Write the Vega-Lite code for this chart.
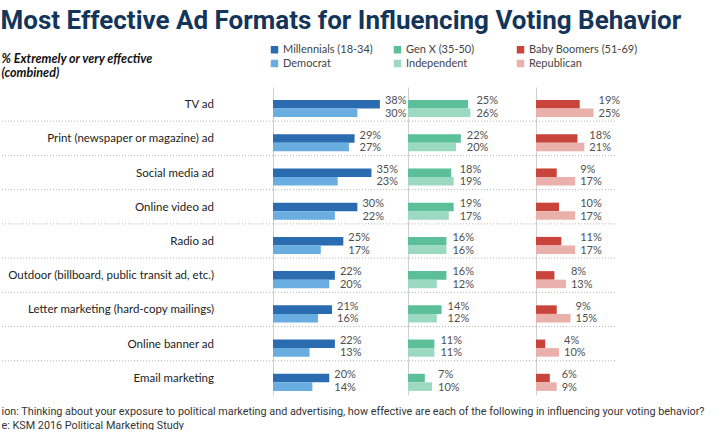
{
  "$schema": "https://vega.github.io/schema/vega-lite/v6.json",
  "padding": {"left": 0, "top": 8, "right": 0, "bottom": 0},
  "spacing": 0,
  "bounds": "flush",
  "background": "white",
  "title": {
    "text": "Most Effective Ad Formats for Influencing Voting Behavior",
    "anchor": "start",
    "font": "Roboto",
    "fontSize": 26,
    "fontWeight": "bold",
    "color": "#14355a",
    "offset": 10
  },
  "data": {
    "values": [
      {"format": "TV ad", "panel": "A", "level": "gen", "series": "Millennials (18-34)", "value": 0.38},
      {"format": "TV ad", "panel": "A", "level": "party", "series": "Democrat", "value": 0.30},
      {"format": "TV ad", "panel": "B", "level": "gen", "series": "Gen X  (35-50)", "value": 0.25},
      {"format": "TV ad", "panel": "B", "level": "party", "series": "Independent", "value": 0.26},
      {"format": "TV ad", "panel": "C", "level": "gen", "series": "Baby Boomers (51-69)", "value": 0.19},
      {"format": "TV ad", "panel": "C", "level": "party", "series": "Republican", "value": 0.25},
      {"format": "Print (newspaper or magazine) ad", "panel": "A", "level": "gen", "series": "Millennials (18-34)", "value": 0.29},
      {"format": "Print (newspaper or magazine) ad", "panel": "A", "level": "party", "series": "Democrat", "value": 0.27},
      {"format": "Print (newspaper or magazine) ad", "panel": "B", "level": "gen", "series": "Gen X  (35-50)", "value": 0.22},
      {"format": "Print (newspaper or magazine) ad", "panel": "B", "level": "party", "series": "Independent", "value": 0.20},
      {"format": "Print (newspaper or magazine) ad", "panel": "C", "level": "gen", "series": "Baby Boomers (51-69)", "value": 0.18},
      {"format": "Print (newspaper or magazine) ad", "panel": "C", "level": "party", "series": "Republican", "value": 0.21},
      {"format": "Social media ad", "panel": "A", "level": "gen", "series": "Millennials (18-34)", "value": 0.35},
      {"format": "Social media ad", "panel": "A", "level": "party", "series": "Democrat", "value": 0.23},
      {"format": "Social media ad", "panel": "B", "level": "gen", "series": "Gen X  (35-50)", "value": 0.18},
      {"format": "Social media ad", "panel": "B", "level": "party", "series": "Independent", "value": 0.19},
      {"format": "Social media ad", "panel": "C", "level": "gen", "series": "Baby Boomers (51-69)", "value": 0.09},
      {"format": "Social media ad", "panel": "C", "level": "party", "series": "Republican", "value": 0.17},
      {"format": "Online video ad", "panel": "A", "level": "gen", "series": "Millennials (18-34)", "value": 0.30},
      {"format": "Online video ad", "panel": "A", "level": "party", "series": "Democrat", "value": 0.22},
      {"format": "Online video ad", "panel": "B", "level": "gen", "series": "Gen X  (35-50)", "value": 0.19},
      {"format": "Online video ad", "panel": "B", "level": "party", "series": "Independent", "value": 0.17},
      {"format": "Online video ad", "panel": "C", "level": "gen", "series": "Baby Boomers (51-69)", "value": 0.10},
      {"format": "Online video ad", "panel": "C", "level": "party", "series": "Republican", "value": 0.17},
      {"format": "Radio ad", "panel": "A", "level": "gen", "series": "Millennials (18-34)", "value": 0.25},
      {"format": "Radio ad", "panel": "A", "level": "party", "series": "Democrat", "value": 0.17},
      {"format": "Radio ad", "panel": "B", "level": "gen", "series": "Gen X  (35-50)", "value": 0.16},
      {"format": "Radio ad", "panel": "B", "level": "party", "series": "Independent", "value": 0.16},
      {"format": "Radio ad", "panel": "C", "level": "gen", "series": "Baby Boomers (51-69)", "value": 0.11},
      {"format": "Radio ad", "panel": "C", "level": "party", "series": "Republican", "value": 0.17},
      {"format": "Outdoor (billboard, public transit ad, etc.)", "panel": "A", "level": "gen", "series": "Millennials (18-34)", "value": 0.22},
      {"format": "Outdoor (billboard, public transit ad, etc.)", "panel": "A", "level": "party", "series": "Democrat", "value": 0.20},
      {"format": "Outdoor (billboard, public transit ad, etc.)", "panel": "B", "level": "gen", "series": "Gen X  (35-50)", "value": 0.16},
      {"format": "Outdoor (billboard, public transit ad, etc.)", "panel": "B", "level": "party", "series": "Independent", "value": 0.12},
      {"format": "Outdoor (billboard, public transit ad, etc.)", "panel": "C", "level": "gen", "series": "Baby Boomers (51-69)", "value": 0.08},
      {"format": "Outdoor (billboard, public transit ad, etc.)", "panel": "C", "level": "party", "series": "Republican", "value": 0.13},
      {"format": "Letter marketing (hard-copy mailings)", "panel": "A", "level": "gen", "series": "Millennials (18-34)", "value": 0.21},
      {"format": "Letter marketing (hard-copy mailings)", "panel": "A", "level": "party", "series": "Democrat", "value": 0.16},
      {"format": "Letter marketing (hard-copy mailings)", "panel": "B", "level": "gen", "series": "Gen X  (35-50)", "value": 0.14},
      {"format": "Letter marketing (hard-copy mailings)", "panel": "B", "level": "party", "series": "Independent", "value": 0.12},
      {"format": "Letter marketing (hard-copy mailings)", "panel": "C", "level": "gen", "series": "Baby Boomers (51-69)", "value": 0.09},
      {"format": "Letter marketing (hard-copy mailings)", "panel": "C", "level": "party", "series": "Republican", "value": 0.15},
      {"format": "Online banner ad", "panel": "A", "level": "gen", "series": "Millennials (18-34)", "value": 0.22},
      {"format": "Online banner ad", "panel": "A", "level": "party", "series": "Democrat", "value": 0.13},
      {"format": "Online banner ad", "panel": "B", "level": "gen", "series": "Gen X  (35-50)", "value": 0.11},
      {"format": "Online banner ad", "panel": "B", "level": "party", "series": "Independent", "value": 0.11},
      {"format": "Online banner ad", "panel": "C", "level": "gen", "series": "Baby Boomers (51-69)", "value": 0.04},
      {"format": "Online banner ad", "panel": "C", "level": "party", "series": "Republican", "value": 0.10},
      {"format": "Email marketing", "panel": "A", "level": "gen", "series": "Millennials (18-34)", "value": 0.20},
      {"format": "Email marketing", "panel": "A", "level": "party", "series": "Democrat", "value": 0.14},
      {"format": "Email marketing", "panel": "B", "level": "gen", "series": "Gen X  (35-50)", "value": 0.07},
      {"format": "Email marketing", "panel": "B", "level": "party", "series": "Independent", "value": 0.10},
      {"format": "Email marketing", "panel": "C", "level": "gen", "series": "Baby Boomers (51-69)", "value": 0.06},
      {"format": "Email marketing", "panel": "C", "level": "party", "series": "Republican", "value": 0.09}
    ]
  },
  "resolve": {"scale": {"x": "independent", "y": "shared", "color": "shared"}},
  "hconcat": [
    {
      "width": 272,
      "height": 308,
      "layer": [
        {
          "transform": [{"filter": "datum.panel === 'A' && datum.level === 'gen' && datum.format !== 'Email marketing'"}],
          "mark": {"type": "rule", "strokeDash": [1, 2], "color": "#b5b5b5", "strokeWidth": 1},
          "encoding": {
            "y": {"field": "format", "type": "nominal", "bandPosition": 1, "sort": ["TV ad", "Print (newspaper or magazine) ad", "Social media ad", "Online video ad", "Radio ad", "Outdoor (billboard, public transit ad, etc.)", "Letter marketing (hard-copy mailings)", "Online banner ad", "Email marketing"], "scale": {"paddingInner": 0, "paddingOuter": 0},
              "axis": {"labels": false, "ticks": false, "domain": false, "grid": false, "title": ["% Extremely or very effective", "(combined)"], "titleAngle": 0, "titleAlign": "left", "titleBaseline": "top", "titleX": 0, "titleY": -35, "titleFont": "Lato", "titleFontSize": 12.5, "titleFontStyle": "italic", "titleFontWeight": "bold", "titleColor": "#111111", "titleLineHeight": 14}}
          }
        },
        {
          "transform": [{"filter": "datum.panel === 'A' && datum.level === 'gen'"}],
          "mark": {"type": "text", "align": "right", "baseline": "middle", "dx": -59, "dy": 1, "font": "Lato", "fontSize": 11.5, "color": "#222222"},
          "encoding": {
            "y": {"field": "format", "type": "nominal", "sort": ["TV ad", "Print (newspaper or magazine) ad", "Social media ad", "Online video ad", "Radio ad", "Outdoor (billboard, public transit ad, etc.)", "Letter marketing (hard-copy mailings)", "Online banner ad", "Email marketing"], "scale": {"paddingInner": 0, "paddingOuter": 0},
              "axis": {"labels": false, "ticks": false, "domain": false, "grid": false, "title": ["% Extremely or very effective", "(combined)"], "titleAngle": 0, "titleAlign": "left", "titleBaseline": "top", "titleX": 0, "titleY": -35, "titleFont": "Lato", "titleFontSize": 12.5, "titleFontStyle": "italic", "titleFontWeight": "bold", "titleColor": "#111111", "titleLineHeight": 14}},
            "x": {
              "datum": 1, "type": "quantitative", "scale": {"domain": [0, 1]},
              "axis": {
                "title": ["ion: Thinking about your exposure to political marketing and advertising, how effective are each of the following in influencing your voting behavior?", "e: KSM 2016 Political Marketing Study"],
                "labels": false, "ticks": false, "domain": false, "grid": false,
                "titleAnchor": "start", "titleAlign": "left", "titleFont": "Roboto", "titleFontSize": 10.8, "titleFontWeight": "normal", "titleColor": "#333333", "titlePadding": 10, "titleLineHeight": 14
              }
            },
            "text": {"field": "format"}
          }
        }
      ]
    },
    {
      "width": 135,
      "height": 308,
      "layer": [
        {
          "transform": [{"filter": "datum.panel === 'A' && datum.level === 'gen' && datum.format !== 'Email marketing'"}],
          "mark": {"type": "rule", "strokeDash": [1, 2], "color": "#b5b5b5", "strokeWidth": 1},
          "encoding": {
            "y": {"field": "format", "type": "nominal", "bandPosition": 1, "sort": ["TV ad", "Print (newspaper or magazine) ad", "Social media ad", "Online video ad", "Radio ad", "Outdoor (billboard, public transit ad, etc.)", "Letter marketing (hard-copy mailings)", "Online banner ad", "Email marketing"], "scale": {"paddingInner": 0, "paddingOuter": 0}, "axis": {"labels": false, "ticks": false, "title": null, "grid": false, "domainColor": "#d0d0d0"}}
          }
        },
        {
          "transform": [{"filter": "datum.panel === 'A'"}],
          "mark": {"type": "bar"},
          "encoding": {
            "y": {"field": "format", "type": "nominal", "sort": ["TV ad", "Print (newspaper or magazine) ad", "Social media ad", "Online video ad", "Radio ad", "Outdoor (billboard, public transit ad, etc.)", "Letter marketing (hard-copy mailings)", "Online banner ad", "Email marketing"], "scale": {"paddingInner": 0, "paddingOuter": 0}, "axis": {"labels": false, "ticks": false, "title": null, "grid": false, "domainColor": "#d0d0d0"}},
            "yOffset": {"field": "level", "sort": ["gen", "party"], "scale": {"paddingInner": 0, "paddingOuter": 1.14, "align": 0.76}},
            "x": {"field": "value", "type": "quantitative", "scale": {"domain": [0, 0.48]}, "axis": null},
            "color": {
              "field": "series", "type": "nominal",
              "scale": {"domain": ["Millennials (18-34)", "Gen X  (35-50)", "Baby Boomers (51-69)", "Democrat", "Independent", "Republican"], "range": ["#2b6cb0", "#5bbf99", "#c9443a", "#6aade1", "#9bd9c2", "#eab0ac"]},
              "legend": {"orient": "none", "legendX": 268, "legendY": -43, "columns": 3, "direction": "horizontal", "gridAlign": "all", "columnPadding": 0, "rowPadding": 2, "symbolType": "square", "symbolSize": 56, "symbolStrokeWidth": 0, "labelFont": "Lato", "labelFontSize": 11, "labelColor": "#444444", "labelOffset": 3, "title": null}
            }
          }
        },
        {
          "transform": [{"filter": "datum.panel === 'A'"}, {"joinaggregate": [{"op": "max", "field": "value", "as": "pairmax"}], "groupby": ["format"]}, {"filter": "datum.level === 'gen'"}],
          "mark": {"type": "text", "align": "left", "baseline": "middle", "dx": 5, "dy": -3, "font": "Lato", "fontSize": 11, "color": "#505050"},
          "encoding": {
            "y": {"field": "format", "type": "nominal", "sort": ["TV ad", "Print (newspaper or magazine) ad", "Social media ad", "Online video ad", "Radio ad", "Outdoor (billboard, public transit ad, etc.)", "Letter marketing (hard-copy mailings)", "Online banner ad", "Email marketing"], "scale": {"paddingInner": 0, "paddingOuter": 0}, "axis": {"labels": false, "ticks": false, "title": null, "grid": false, "domainColor": "#d0d0d0"}},
            "yOffset": {"field": "level", "sort": ["gen", "party"], "scale": {"paddingInner": 0, "paddingOuter": 1.14, "align": 0.76}},
            "x": {"field": "pairmax", "type": "quantitative", "scale": {"domain": [0, 0.48]}, "axis": null},
            "text": {"field": "value", "format": ".0%"}
          }
        },
        {
          "transform": [{"filter": "datum.panel === 'A'"}, {"joinaggregate": [{"op": "max", "field": "value", "as": "pairmax"}], "groupby": ["format"]}, {"filter": "datum.level === 'party'"}],
          "mark": {"type": "text", "align": "left", "baseline": "middle", "dx": 5, "dy": 1, "font": "Lato", "fontSize": 11, "color": "#505050"},
          "encoding": {
            "y": {"field": "format", "type": "nominal", "sort": ["TV ad", "Print (newspaper or magazine) ad", "Social media ad", "Online video ad", "Radio ad", "Outdoor (billboard, public transit ad, etc.)", "Letter marketing (hard-copy mailings)", "Online banner ad", "Email marketing"], "scale": {"paddingInner": 0, "paddingOuter": 0}, "axis": {"labels": false, "ticks": false, "title": null, "grid": false, "domainColor": "#d0d0d0"}},
            "yOffset": {"field": "level", "sort": ["gen", "party"], "scale": {"paddingInner": 0, "paddingOuter": 1.14, "align": 0.76}},
            "x": {"field": "pairmax", "type": "quantitative", "scale": {"domain": [0, 0.48]}, "axis": null},
            "text": {"field": "value", "format": ".0%"}
          }
        }
      ]
    },
    {
      "width": 128,
      "height": 308,
      "layer": [
        {
          "transform": [{"filter": "datum.panel === 'A' && datum.level === 'gen' && datum.format !== 'Email marketing'"}],
          "mark": {"type": "rule", "strokeDash": [1, 2], "color": "#b5b5b5", "strokeWidth": 1},
          "encoding": {
            "y": {"field": "format", "type": "nominal", "bandPosition": 1, "sort": ["TV ad", "Print (newspaper or magazine) ad", "Social media ad", "Online video ad", "Radio ad", "Outdoor (billboard, public transit ad, etc.)", "Letter marketing (hard-copy mailings)", "Online banner ad", "Email marketing"], "scale": {"paddingInner": 0, "paddingOuter": 0}, "axis": {"labels": false, "ticks": false, "title": null, "grid": false, "domainColor": "#d0d0d0"}}
          }
        },
        {
          "transform": [{"filter": "datum.panel === 'B'"}],
          "mark": {"type": "bar"},
          "encoding": {
            "y": {"field": "format", "type": "nominal", "sort": ["TV ad", "Print (newspaper or magazine) ad", "Social media ad", "Online video ad", "Radio ad", "Outdoor (billboard, public transit ad, etc.)", "Letter marketing (hard-copy mailings)", "Online banner ad", "Email marketing"], "scale": {"paddingInner": 0, "paddingOuter": 0}, "axis": {"labels": false, "ticks": false, "title": null, "grid": false, "domainColor": "#d0d0d0"}},
            "yOffset": {"field": "level", "sort": ["gen", "party"], "scale": {"paddingInner": 0, "paddingOuter": 1.14, "align": 0.76}},
            "x": {"field": "value", "type": "quantitative", "scale": {"domain": [0, 0.533]}, "axis": null},
            "color": {
              "field": "series", "type": "nominal",
              "scale": {"domain": ["Millennials (18-34)", "Gen X  (35-50)", "Baby Boomers (51-69)", "Democrat", "Independent", "Republican"], "range": ["#2b6cb0", "#5bbf99", "#c9443a", "#6aade1", "#9bd9c2", "#eab0ac"]},
              "legend": {"orient": "none", "legendX": 268, "legendY": -43, "columns": 3, "direction": "horizontal", "gridAlign": "all", "columnPadding": 0, "rowPadding": 2, "symbolType": "square", "symbolSize": 56, "symbolStrokeWidth": 0, "labelFont": "Lato", "labelFontSize": 11, "labelColor": "#444444", "labelOffset": 3, "title": null}
            }
          }
        },
        {
          "transform": [{"filter": "datum.panel === 'B'"}, {"joinaggregate": [{"op": "max", "field": "value", "as": "pairmax"}], "groupby": ["format"]}, {"filter": "datum.level === 'gen'"}],
          "mark": {"type": "text", "align": "left", "baseline": "middle", "dx": 6, "dy": -3, "font": "Lato", "fontSize": 11, "color": "#505050"},
          "encoding": {
            "y": {"field": "format", "type": "nominal", "sort": ["TV ad", "Print (newspaper or magazine) ad", "Social media ad", "Online video ad", "Radio ad", "Outdoor (billboard, public transit ad, etc.)", "Letter marketing (hard-copy mailings)", "Online banner ad", "Email marketing"], "scale": {"paddingInner": 0, "paddingOuter": 0}, "axis": {"labels": false, "ticks": false, "title": null, "grid": false, "domainColor": "#d0d0d0"}},
            "yOffset": {"field": "level", "sort": ["gen", "party"], "scale": {"paddingInner": 0, "paddingOuter": 1.14, "align": 0.76}},
            "x": {"field": "pairmax", "type": "quantitative", "scale": {"domain": [0, 0.533]}, "axis": null},
            "text": {"field": "value", "format": ".0%"}
          }
        },
        {
          "transform": [{"filter": "datum.panel === 'B'"}, {"joinaggregate": [{"op": "max", "field": "value", "as": "pairmax"}], "groupby": ["format"]}, {"filter": "datum.level === 'party'"}],
          "mark": {"type": "text", "align": "left", "baseline": "middle", "dx": 6, "dy": 1, "font": "Lato", "fontSize": 11, "color": "#505050"},
          "encoding": {
            "y": {"field": "format", "type": "nominal", "sort": ["TV ad", "Print (newspaper or magazine) ad", "Social media ad", "Online video ad", "Radio ad", "Outdoor (billboard, public transit ad, etc.)", "Letter marketing (hard-copy mailings)", "Online banner ad", "Email marketing"], "scale": {"paddingInner": 0, "paddingOuter": 0}, "axis": {"labels": false, "ticks": false, "title": null, "grid": false, "domainColor": "#d0d0d0"}},
            "yOffset": {"field": "level", "sort": ["gen", "party"], "scale": {"paddingInner": 0, "paddingOuter": 1.14, "align": 0.76}},
            "x": {"field": "pairmax", "type": "quantitative", "scale": {"domain": [0, 0.533]}, "axis": null},
            "text": {"field": "value", "format": ".0%"}
          }
        }
      ]
    },
    {
      "width": 79,
      "height": 308,
      "layer": [
        {
          "transform": [{"filter": "datum.panel === 'A' && datum.level === 'gen' && datum.format !== 'Email marketing'"}],
          "mark": {"type": "rule", "strokeDash": [1, 2], "color": "#b5b5b5", "strokeWidth": 1},
          "encoding": {
            "y": {"field": "format", "type": "nominal", "bandPosition": 1, "sort": ["TV ad", "Print (newspaper or magazine) ad", "Social media ad", "Online video ad", "Radio ad", "Outdoor (billboard, public transit ad, etc.)", "Letter marketing (hard-copy mailings)", "Online banner ad", "Email marketing"], "scale": {"paddingInner": 0, "paddingOuter": 0}, "axis": {"labels": false, "ticks": false, "title": null, "grid": false, "domainColor": "#d0d0d0"}}
          }
        },
        {
          "transform": [{"filter": "datum.panel === 'C'"}],
          "mark": {"type": "bar"},
          "encoding": {
            "y": {"field": "format", "type": "nominal", "sort": ["TV ad", "Print (newspaper or magazine) ad", "Social media ad", "Online video ad", "Radio ad", "Outdoor (billboard, public transit ad, etc.)", "Letter marketing (hard-copy mailings)", "Online banner ad", "Email marketing"], "scale": {"paddingInner": 0, "paddingOuter": 0}, "axis": {"labels": false, "ticks": false, "title": null, "grid": false, "domainColor": "#d0d0d0"}},
            "yOffset": {"field": "level", "sort": ["gen", "party"], "scale": {"paddingInner": 0, "paddingOuter": 1.14, "align": 0.76}},
            "x": {"field": "value", "type": "quantitative", "scale": {"domain": [0, 0.343]}, "axis": null},
            "color": {
              "field": "series", "type": "nominal",
              "scale": {"domain": ["Millennials (18-34)", "Gen X  (35-50)", "Baby Boomers (51-69)", "Democrat", "Independent", "Republican"], "range": ["#2b6cb0", "#5bbf99", "#c9443a", "#6aade1", "#9bd9c2", "#eab0ac"]},
              "legend": {"orient": "none", "legendX": 268, "legendY": -43, "columns": 3, "direction": "horizontal", "gridAlign": "all", "columnPadding": 0, "rowPadding": 2, "symbolType": "square", "symbolSize": 56, "symbolStrokeWidth": 0, "labelFont": "Lato", "labelFontSize": 11, "labelColor": "#444444", "labelOffset": 3, "title": null}
            }
          }
        },
        {
          "transform": [{"filter": "datum.panel === 'C'"}, {"joinaggregate": [{"op": "max", "field": "value", "as": "pairmax"}], "groupby": ["format"]}, {"filter": "datum.level === 'gen'"}],
          "mark": {"type": "text", "align": "left", "baseline": "middle", "dx": 5, "dy": -3, "font": "Lato", "fontSize": 11, "color": "#505050"},
          "encoding": {
            "y": {"field": "format", "type": "nominal", "sort": ["TV ad", "Print (newspaper or magazine) ad", "Social media ad", "Online video ad", "Radio ad", "Outdoor (billboard, public transit ad, etc.)", "Letter marketing (hard-copy mailings)", "Online banner ad", "Email marketing"], "scale": {"paddingInner": 0, "paddingOuter": 0}, "axis": {"labels": false, "ticks": false, "title": null, "grid": false, "domainColor": "#d0d0d0"}},
            "yOffset": {"field": "level", "sort": ["gen", "party"], "scale": {"paddingInner": 0, "paddingOuter": 1.14, "align": 0.76}},
            "x": {"field": "pairmax", "type": "quantitative", "scale": {"domain": [0, 0.343]}, "axis": null},
            "text": {"field": "value", "format": ".0%"}
          }
        },
        {
          "transform": [{"filter": "datum.panel === 'C'"}, {"joinaggregate": [{"op": "max", "field": "value", "as": "pairmax"}], "groupby": ["format"]}, {"filter": "datum.level === 'party'"}],
          "mark": {"type": "text", "align": "left", "baseline": "middle", "dx": 5, "dy": 1, "font": "Lato", "fontSize": 11, "color": "#505050"},
          "encoding": {
            "y": {"field": "format", "type": "nominal", "sort": ["TV ad", "Print (newspaper or magazine) ad", "Social media ad", "Online video ad", "Radio ad", "Outdoor (billboard, public transit ad, etc.)", "Letter marketing (hard-copy mailings)", "Online banner ad", "Email marketing"], "scale": {"paddingInner": 0, "paddingOuter": 0}, "axis": {"labels": false, "ticks": false, "title": null, "grid": false, "domainColor": "#d0d0d0"}},
            "yOffset": {"field": "level", "sort": ["gen", "party"], "scale": {"paddingInner": 0, "paddingOuter": 1.14, "align": 0.76}},
            "x": {"field": "pairmax", "type": "quantitative", "scale": {"domain": [0, 0.343]}, "axis": null},
            "text": {"field": "value", "format": ".0%"}
          }
        }
      ]
    }
  ],
  "config": {
    "view": {"stroke": null},
    "axis": {"domainWidth": 1}
  }
}
